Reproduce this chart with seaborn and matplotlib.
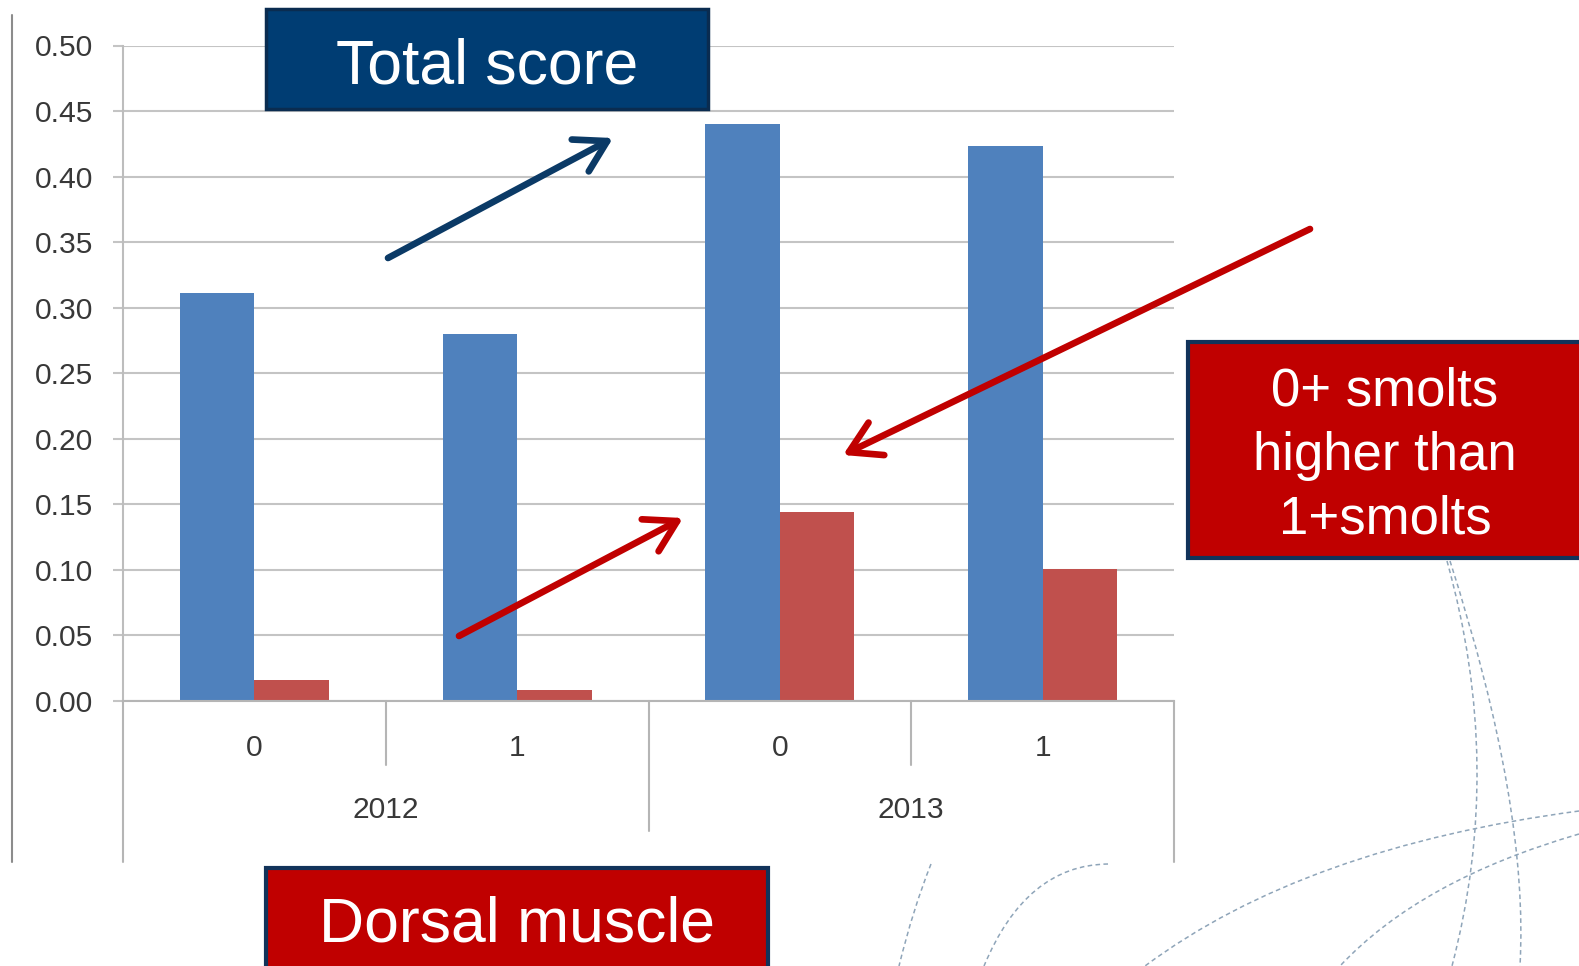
import matplotlib
matplotlib.use("Agg")
import matplotlib.pyplot as plt
import matplotlib.transforms as mtransforms
from matplotlib.patches import Rectangle, PathPatch
from matplotlib.path import Path
import numpy as np
import pandas as pd
import seaborn as sns

# ---------------- data ----------------
years = ["2012", "2012", "2013", "2013"]
ages = ["0", "1", "0", "1"]
series_names = ["Total score", "Dorsal muscle"]
total_score = [0.311, 0.280, 0.440, 0.423]
dorsal_muscle = [0.016, 0.0085, 0.144, 0.101]
y_ticks = [0.00, 0.05, 0.10, 0.15, 0.20, 0.25, 0.30, 0.35, 0.40, 0.45, 0.50]
year_labels = ["2012", "2013"]
box_total = "Total score"
box_dorsal = "Dorsal muscle"
box_smolts = ["0+ smolts", "higher than", "1+smolts"]

groups = [f"{y}-{a}" for y, a in zip(years, ages)]
df = pd.DataFrame({
    "group": groups * 2,
    "series": [series_names[0]] * 4 + [series_names[1]] * 4,
    "value": total_score + dorsal_muscle,
})

sns.set_theme(style="white")
plt.rcParams["font.family"] = ["Liberation Sans", "DejaVu Sans"]

W, H = 1579, 966
fig = plt.figure(figsize=(W / 100, H / 100), dpi=100)
fig.patch.set_facecolor("white")

left_px, right_px, top_px, base_px = 123, 1174, 45.5, 701
ax = fig.add_axes([left_px / W, 1 - base_px / H,
                   (right_px - left_px) / W, (base_px - top_px) / H])

sns.barplot(data=df, x="group", y="value", hue="series",
            palette=["#4F81BD", "#C0504D"], saturation=1,
            width=0.567, gap=0, linewidth=0, legend=False, ax=ax,
            errorbar=None)

ax.set_xlim(-0.5, 3.5)
ax.set_ylim(0, 0.5)
ax.set_yticks(y_ticks)
ax.set_yticklabels([f"{v:.2f}" for v in y_ticks])
ax.set_xticks(range(len(groups)))
ax.set_xticklabels(ages)
ax.set_xlabel("")
ax.set_ylabel("")
ax.set_facecolor("white")

grid_c = "#c4c4c4"
ax.yaxis.grid(True, color=grid_c, lw=1.5)
ax.xaxis.grid(False)
ax.set_axisbelow(True)
for s in ["top", "right"]:
    ax.spines[s].set_visible(False)
ax.spines["left"].set_color("#bdbdbd")
ax.spines["left"].set_linewidth(1.5)
ax.spines["bottom"].set_color("#b5b5b5")
ax.spines["bottom"].set_linewidth(1.5)

ax.tick_params(axis="y", left=True, length=7.2, width=1.5, color=grid_c,
               pad=14.4, labelsize=21.6, labelcolor="#383838")
ax.tick_params(axis="x", bottom=False, length=0, pad=23.5,
               labelsize=21.6, labelcolor="#383838")

# category separators below the axis
trans = mtransforms.blended_transform_factory(ax.transData, ax.transAxes)
axis_h = base_px - top_px
short = -(765 - base_px) / axis_h
long_ = -(831 - base_px) / axis_h
cut = -(862 - base_px) / axis_h
sep_kw = dict(color="#b5b5b5", lw=1.5, transform=trans, clip_on=False)
for xb in [0.5, 2.5]:
    ax.plot([xb, xb], [0, short], **sep_kw)
ax.plot([1.5, 1.5], [0, long_], **sep_kw)
ax.plot([-0.5, -0.5], [0, cut], **sep_kw)
ax.plot([3.5, 3.5], [0, cut], **sep_kw)

yr_y = -(810 - base_px) / axis_h
for i, yl in enumerate(year_labels):
    ax.text(0.5 + 2 * i, yr_y, yl, transform=trans, ha="center",
            va="center", fontsize=21.6, color="#383838")

# ---------------- overlay (slide decorations) ----------------
ov = fig.add_axes([0, 0, 1, 1])
ov.set_xlim(0, W)
ov.set_ylim(H, 0)
ov.axis("off")
ov.set_zorder(5)

ov.plot([12, 12], [15, 862], color="#8c8c8c", lw=1.5)

def qcurve(p0, pm, p2):
    p0, pm, p2 = map(np.asarray, (p0, pm, p2))
    c = 2 * pm - (p0 + p2) / 2
    return Path([p0, c, p2], [Path.MOVETO, Path.CURVE3, Path.CURVE3])

arc_kw = dict(fill=False, ec="#8fa5b9", lw=1.1, linestyle=(0, (3, 2.2)))
for p0, pm, p2 in [
    ((1447, 561), (1477, 765), (1452, 966)),
    ((1450, 561), (1507, 785), (1520, 966)),
    ((1579, 811), (1333, 868), (1145, 966)),
    ((1579, 834), (1440, 890), (1340, 966)),
    ((931, 864), (914, 912), (899, 966)),
    ((1108, 864), (1036, 890), (984, 966)),
]:
    ov.add_patch(PathPatch(qcurve(p0, pm, p2), **arc_kw))

# boxes
ov.add_patch(Rectangle((266, 9), 442, 100, fc="#003d73", ec="#0a2c50", lw=2.5))
ov.text(487, 84, box_total, ha="center", va="baseline", color="white",
        fontsize=45)

ov.add_patch(Rectangle((266, 868), 502, 120, fc="#c00000", ec="#12335a", lw=3))
ov.text(517, 942, box_dorsal, ha="center", va="baseline", color="white",
        fontsize=45)

ov.add_patch(Rectangle((1188, 342), 420, 216, fc="#c00000", ec="#12335a", lw=3))
for i, line in enumerate(box_smolts):
    ov.text(1385, 406 + 64 * i, line, ha="center", va="baseline",
            color="white", fontsize=38)

# arrows
def arrow(p_from, p_to, color):
    ov.annotate("", xy=p_to, xytext=p_from,
                arrowprops=dict(arrowstyle="->,head_length=2.2,head_width=1.3",
                                color=color, lw=4.8, mutation_scale=10,
                                shrinkA=0, shrinkB=0, capstyle="round"))

arrow((388, 258), (613, 138), "#0b3a66")
arrow((459, 636), (683, 518), "#c00000")
arrow((1310, 229), (843, 455), "#c00000")

fig.savefig("out.png", dpi=100, facecolor="white")
